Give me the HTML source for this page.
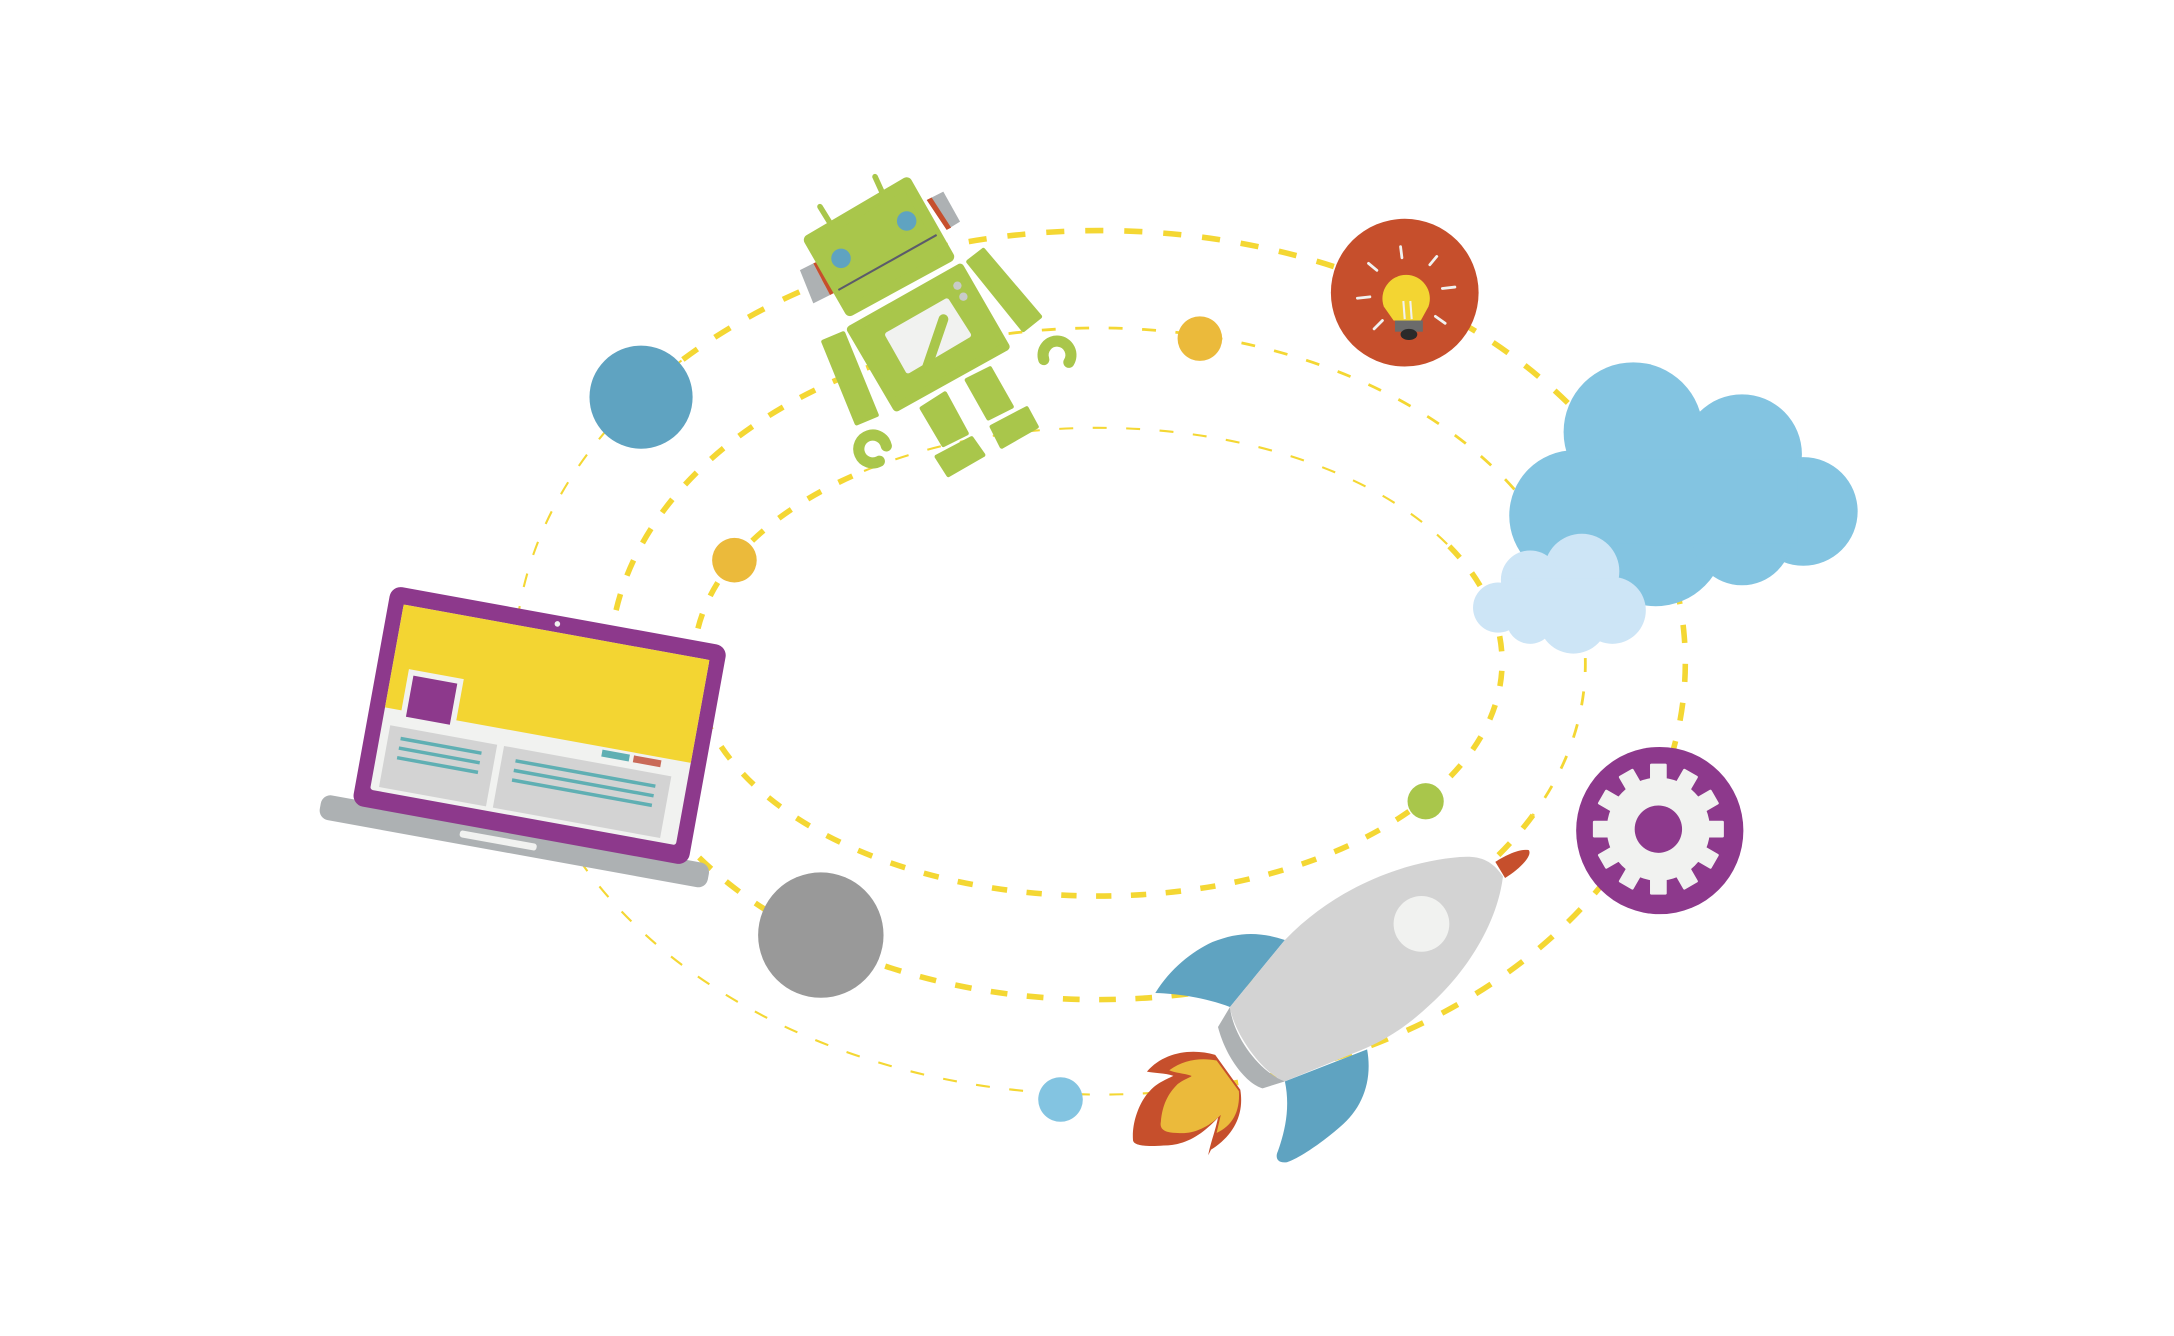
<!DOCTYPE html>
<html><head><meta charset="utf-8"><style>
html,body{margin:0;padding:0;background:#fff;width:2174px;height:1336px;overflow:hidden}
svg{display:block}
</style></head><body>
<svg width="2174" height="1336" viewBox="0 0 1560 958.7" preserveAspectRatio="none" xmlns="http://www.w3.org/2000/svg">
<rect width="1560" height="958.7" fill="#fff"/>
<g fill="none" stroke="#f4d733" stroke-linecap="butt">
 <path d="M 490,258 A 420,310 0 1 1 830,784" stroke-width="4" stroke-dasharray="13 15"/>
 <path d="M 830,784 A 420,310 0 0 1 490,258" stroke-width="1.5" stroke-dasharray="10 14"/>
 <path d="M 1100,585 A 350,241 0 1 1 700,243" stroke-width="4" stroke-dasharray="12 14"/>
 <path d="M 700,243 A 350,241 0 0 1 1100,585" stroke-width="2" stroke-dasharray="10 14"/>
 <path d="M 620,338 A 290,168 0 0 1 1040,392" stroke-width="1.5" stroke-dasharray="10 14"/>
 <path d="M 1040,392 A 290,168 0 1 1 620,338" stroke-width="4" stroke-dasharray="11 14"/>
</g>

<circle cx="460" cy="285" r="37" fill="#5fa3c1"/>
<circle cx="527" cy="402" r="16" fill="#ebba3b"/>
<circle cx="861" cy="243" r="16" fill="#ebba3b"/>
<circle cx="1023" cy="575" r="13" fill="#a9c64b"/>
<circle cx="589" cy="671" r="45" fill="#999999"/>
<circle cx="761" cy="789" r="16" fill="#83c4e1"/>

<circle cx="1008" cy="210" r="53" fill="#c64f2c"/>
<g stroke="#f1f2f0" stroke-width="2" stroke-linecap="round">
 <line x1="1005" y1="177" x2="1006" y2="185"/>
 <line x1="982" y1="189" x2="988" y2="194"/>
 <line x1="1031" y1="184" x2="1026" y2="190"/>
 <line x1="974" y1="214" x2="983" y2="213"/>
 <line x1="1035" y1="207" x2="1044" y2="206"/>
 <line x1="986" y1="236" x2="992" y2="230"/>
 <line x1="1030" y1="227" x2="1037" y2="232"/>
</g>
<path d="M 1000,230 L 993,220 A 17,17 0 1 1 1025,220 L 1019,231 Z" fill="#f3d532"/>
<rect x="1001" y="230" width="20" height="8" fill="#6b6b6b"/>
<ellipse cx="1011" cy="240" rx="6" ry="4" fill="#2a2a2a"/>
<line x1="1007" y1="216" x2="1008" y2="229" stroke="#f1f2f0" stroke-width="1.5"/>
<line x1="1012" y1="216" x2="1013" y2="229" stroke="#f1f2f0" stroke-width="1.5"/>

<g fill="#83c4e1">
 <circle cx="1172" cy="310" r="50"/>
 <circle cx="1250" cy="326" r="43"/>
 <circle cx="1294" cy="367" r="39"/>
 <circle cx="1130" cy="370" r="47"/>
 <circle cx="1188" cy="385" r="50"/>
 <circle cx="1250" cy="384" r="36"/>
 <rect x="1140" y="330" width="150" height="60"/>
</g>
<g fill="#cde5f6">
 <circle cx="1135" cy="410" r="27"/>
 <circle cx="1098" cy="416" r="21"/>
 <circle cx="1075" cy="436" r="18"/>
 <circle cx="1157" cy="438" r="24"/>
 <circle cx="1129" cy="444" r="25"/>
 <circle cx="1098" cy="445" r="17"/>
 <rect x="1080" y="415" width="80" height="30"/>
</g>

<circle cx="1191" cy="596" r="60" fill="#8d398c"/>
<g transform="translate(1190,595)" fill="#f1f2f0">
 <circle r="37"/>
 <rect x="-6" y="-47" width="12" height="14" rx="1"/>
 <rect x="-6" y="-47" width="12" height="14" rx="1" transform="rotate(30)"/>
 <rect x="-6" y="-47" width="12" height="14" rx="1" transform="rotate(60)"/>
 <rect x="-6" y="-47" width="12" height="14" rx="1" transform="rotate(90)"/>
 <rect x="-6" y="-47" width="12" height="14" rx="1" transform="rotate(120)"/>
 <rect x="-6" y="-47" width="12" height="14" rx="1" transform="rotate(150)"/>
 <rect x="-6" y="-47" width="12" height="14" rx="1" transform="rotate(180)"/>
 <rect x="-6" y="-47" width="12" height="14" rx="1" transform="rotate(210)"/>
 <rect x="-6" y="-47" width="12" height="14" rx="1" transform="rotate(240)"/>
 <rect x="-6" y="-47" width="12" height="14" rx="1" transform="rotate(270)"/>
 <rect x="-6" y="-47" width="12" height="14" rx="1" transform="rotate(300)"/>
 <rect x="-6" y="-47" width="12" height="14" rx="1" transform="rotate(330)"/>
 <circle r="17" fill="#8d398c"/>
</g>

<g stroke-linejoin="round">
 <g stroke="#a9c64b" stroke-width="4" stroke-linecap="round">
  <line x1="588.4" y1="148.3" x2="595.6" y2="160"/>
  <line x1="627.9" y1="126.8" x2="633" y2="138"/>
 </g>
 <polygon points="574,193.8 583.6,189 595.6,211.7 583.6,217.7" fill="#adb1b3"/>
 <polygon points="583.6,189 587,187.5 599,210 595.6,211.7" fill="#c64f2c"/>
 <polygon points="665,143.5 676.9,137.5 688.9,159 679.3,165" fill="#adb1b3"/>
 <polygon points="665,143.5 668.5,141.7 682.5,163.3 679.3,165" fill="#c64f2c"/>
 <polygon points="580.8,172.2 650.6,131.2 680.7,184.2 609.9,222.8" fill="#a9c64b" stroke="#a9c64b" stroke-width="8"/>
 <circle cx="603.5" cy="185.4" r="7" fill="#5fa3c1"/>
 <circle cx="650.6" cy="158.6" r="7" fill="#5fa3c1"/>
 <line x1="601.6" y1="208.1" x2="672.1" y2="168.6" stroke="#5b5b6b" stroke-width="1.5"/>
 <polygon points="610.7,236.4 688.9,192.2 721.5,248.8 643.4,292.2" fill="#a9c64b" stroke="#a9c64b" stroke-width="6"/>
 <polygon points="637.1,240.2 679.3,216.1 694.8,240.4 651.6,265.9" fill="#f1f2f0" stroke="#f1f2f0" stroke-width="4"/>
 <line x1="677" y1="229" x2="665" y2="264" stroke="#a9c64b" stroke-width="7" stroke-linecap="round"/>
 <circle cx="687" cy="205" r="3" fill="#c8cbc8"/>
 <circle cx="691.3" cy="212.9" r="3" fill="#c8cbc8"/>
 <g fill="#a9c64b" stroke="#a9c64b" stroke-width="3">
  <polygon points="590.8,245.2 605.1,239.2 629.1,297.8 614.7,303.8"/>
  <polygon points="694.8,187.8 705.6,179.4 746.3,227.2 734.3,236.8"/>
  <polygon points="661.4,293 678.1,282.3 693.7,311 676.9,319.3"/>
  <polygon points="693.7,272.7 710.4,264.3 726,291.8 709.2,300.2"/>
  <polygon points="672.1,327.7 697.2,314.5 705.6,326.5 680.5,340.9"/>
  <polygon points="711.6,306.2 736.7,293 743.9,306.2 718.8,320.5"/>
 </g>
 <path d="M 636,320 A 10,10 0 1 0 631,331" fill="none" stroke="#a9c64b" stroke-width="8" stroke-linecap="round"/>
 <path d="M 749,258 A 10,10 0 1 1 767,260" fill="none" stroke="#a9c64b" stroke-width="8" stroke-linecap="round"/>
</g>

<g transform="translate(281,420) rotate(10.3)">
 <rect x="-22" y="156" width="283" height="18" rx="7" fill="#adb1b3"/>
 <rect x="80" y="164" width="56" height="5" rx="2" fill="#f1f2f0"/>
 <rect x="0" y="0" width="245" height="160" rx="8" fill="#8d398c"/>
 <rect x="11" y="12" width="223" height="135" rx="2" fill="#f1f2f0"/>
 <path d="M 11,12 L 234,12 L 234,87 L 11,87 Z" fill="#f3d532"/>
 <circle cx="122" cy="6" r="2" fill="#f1f2f0"/>
 <rect x="23" y="57" width="40" height="38" fill="#f1f2f0"/>
 <rect x="27" y="61" width="32" height="30" fill="#8d398c"/>
 <rect x="17" y="99" width="78" height="45" fill="#d3d3d3"/>
 <rect x="100" y="99" width="122" height="45" fill="#d3d3d3"/>
 <rect x="170" y="89" width="20" height="5" fill="#5fafb3"/>
 <rect x="193" y="89" width="20" height="5" fill="#c96a58"/>
 <g stroke="#5fafb3" stroke-width="2.5">
  <line x1="26" y1="107" x2="85" y2="107"/><line x1="26" y1="114" x2="85" y2="114"/><line x1="26" y1="121" x2="85" y2="121"/>
  <line x1="110" y1="108" x2="212" y2="108"/><line x1="110" y1="115" x2="212" y2="115"/><line x1="110" y1="122" x2="212" y2="122"/>
 </g>
</g>

<path d="M 829,712.6 C 840,695 855,683 870,676 C 890,668 905,669 922,674.5 L 882.6,722.6 C 865,716 845,713 829,712.6 Z" fill="#5fa3c1"/>
<path d="M 981,753 C 985,775 978,795 961.5,808.7 C 945,823 930,832 923.5,834 C 916,835 915,830 917,826 C 922,812 926,795 922,776 Z" fill="#5fa3c1"/>
<path d="M 882.6,722.6 L 922,674.5 C 960,635 1010,618 1047.6,615 C 1060,614 1070,616 1078.5,629 C 1074,665 1050,700 1025,722 C 1010,736 995,746 978,753 L 922,776 C 905,770 885,740 882.6,722.6 Z" fill="#d3d3d3"/>
<path d="M 906,781 C 895,778 880,760 874,737 L 882.6,722.6 C 885,745 905,770 922,776 Z" fill="#adb1b3"/>
<path d="M 1073,618.5 C 1080,614 1090,609 1097,610 C 1100,614 1090,624 1080,630 Z" fill="#c64f2c"/>
<circle cx="1020" cy="663" r="20" fill="#f1f2f0"/>
<path d="M 823,769 C 835,755 855,752 872,757 L 890,782 C 893,800 885,815 869,825 L 867,829 C 868,822 872,812 874,802 C 862,815 850,822 835,822 C 822,823 813,822 813,818 C 812,805 818,790 825,783 C 830,777 838,774 842,772 C 836,770 828,770 823,769 Z" fill="#c64f2c"/>
<path d="M 839,768 C 850,760 862,759 873,761 L 889,783 C 890,798 884,808 873,813 L 876,800 C 866,810 855,814 845,813 C 835,813 832,810 833,805 C 834,793 838,785 845,778 C 850,774 855,773 855,772 C 849,770 843,770 839,768 Z" fill="#ebba3b"/>
</svg>
</body></html>
